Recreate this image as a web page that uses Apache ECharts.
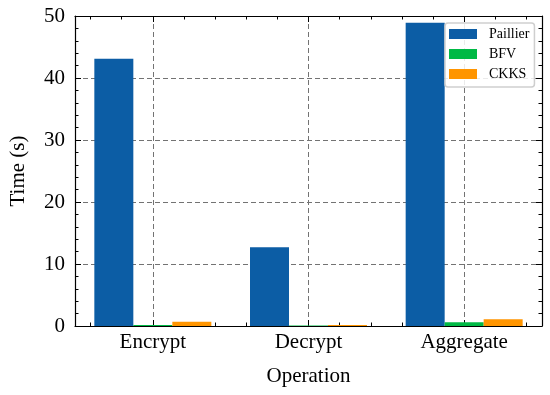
<!DOCTYPE html>
<html>
<head>
<meta charset="utf-8">
<script src="https://cdn.jsdelivr.net/npm/echarts@6/dist/echarts.min.js"></script>
<style>
html,body{margin:0;padding:0;background:#fff;}
#chart{width:550px;height:395px;}
</style>
</head>
<body>
<div id="chart"></div>
<script>
const categories = ['Encrypt', 'Decrypt', 'Aggregate'];
const seriesNames = ['Paillier', 'BFV', 'CKKS'];
const paillier = [43.1, 12.7, 48.9];
const bfv = [0.15, 0.1, 0.6];
const ckks = [0.7, 0.15, 1.1];
const yTicks = [0, 10, 20, 30, 40, 50];
const xMinorTicks = [-0.4, -0.2, 0.2, 0.4, 0.6, 0.8, 1.2, 1.4, 1.6, 1.8, 2.2, 2.4];

const colors = ['#0C5DA5', '#00B945', '#FF9500'];
const FONT = '"Liberation Serif", "DejaVu Serif", serif';

const chart = echarts.init(document.getElementById('chart'), null, {renderer: 'canvas'});

const blackLine = {show: true, onZero: false, lineStyle: {color: '#000', width: 1.2}};
const gridDash = {show: true, lineStyle: {color: '#737373', type: [5, 3], width: 1}};

const option = {
  animation: false,
  backgroundColor: '#fff',
  grid: {left: 73, right: 8, top: 16, bottom: 69, containLabel: false},
  legend: {
    orient: 'vertical',
    left: 445, top: 23,
    data: seriesNames,
    itemWidth: 28, itemHeight: 10, itemGap: 6,
    icon: 'rect',
    backgroundColor: 'rgba(255,255,255,0.85)',
    borderColor: '#cfcfcf', borderWidth: 1.5, borderRadius: 3,
    padding: [4, 5, 6, 4],
    textStyle: {fontFamily: FONT, fontSize: 14, color: '#000', lineHeight: 14, padding: [0, 0, 0, 7]}
  },
  xAxis: [
    {
      type: 'category', data: categories, position: 'bottom',
      axisLine: blackLine,
      axisTick: {show: true, inside: true, alignWithLabel: true, length: 6, lineStyle: {color: '#000', width: 1}},
      axisLabel: {fontFamily: FONT, fontSize: 21, color: '#000', margin: 6},
      splitLine: Object.assign({alignWithLabel: true}, gridDash),
      name: 'Operation', nameLocation: 'middle', nameGap: 40,
      nameTextStyle: {fontFamily: FONT, fontSize: 21, color: '#000'}
    },
    {
      type: 'value', position: 'bottom', min: -0.5, max: 2.5,
      axisLine: {show: false, onZero: false},
      axisTick: {show: true, inside: true, length: 3.5, customValues: xMinorTicks, lineStyle: {color: '#000', width: 1}},
      axisLabel: {show: false}, splitLine: {show: false}
    },
    {
      type: 'value', position: 'top', min: -0.5, max: 2.5,
      axisLine: {show: false, onZero: false},
      axisTick: {show: true, inside: true, length: 3.5, customValues: xMinorTicks, lineStyle: {color: '#000', width: 1}},
      axisLabel: {show: false}, splitLine: {show: false}
    },
    {
      type: 'category', data: categories, position: 'top',
      axisLine: blackLine,
      axisTick: {show: true, inside: true, alignWithLabel: true, length: 6, lineStyle: {color: '#000', width: 1}},
      axisLabel: {show: false}, splitLine: {show: false}
    }
  ],
  yAxis: [
    {
      type: 'value', min: 0, max: 50, interval: 10, position: 'left',
      axisLine: blackLine,
      axisTick: {show: true, inside: true, length: 6, lineStyle: {color: '#000', width: 1}},
      minorTick: {show: true, splitNumber: 5, length: 3.5, lineStyle: {color: '#000', width: 1}},
      axisLabel: {fontFamily: FONT, fontSize: 21, color: '#000', margin: 10,
        customValues: yTicks},
      splitLine: gridDash,
      name: 'Time (s)', nameLocation: 'middle', nameGap: 46, nameRotate: 90,
      nameTextStyle: {fontFamily: FONT, fontSize: 21, color: '#000'}
    },
    {
      type: 'value', min: 0, max: 50, interval: 10, position: 'right',
      axisLine: blackLine,
      axisTick: {show: true, inside: true, length: 6, lineStyle: {color: '#000', width: 1}},
      minorTick: {show: true, splitNumber: 5, length: 3.5, lineStyle: {color: '#000', width: 1}},
      axisLabel: {show: false}, splitLine: {show: false}
    }
  ],
  series: [paillier, bfv, ckks].map((d, i) => ({
    name: seriesNames[i], type: 'bar', data: d,
    xAxisIndex: 0, yAxisIndex: 0,
    barWidth: 39, barGap: '0%',
    itemStyle: {color: colors[i]}
  }))
};
chart.setOption(option);
</script>
</body>
</html>
